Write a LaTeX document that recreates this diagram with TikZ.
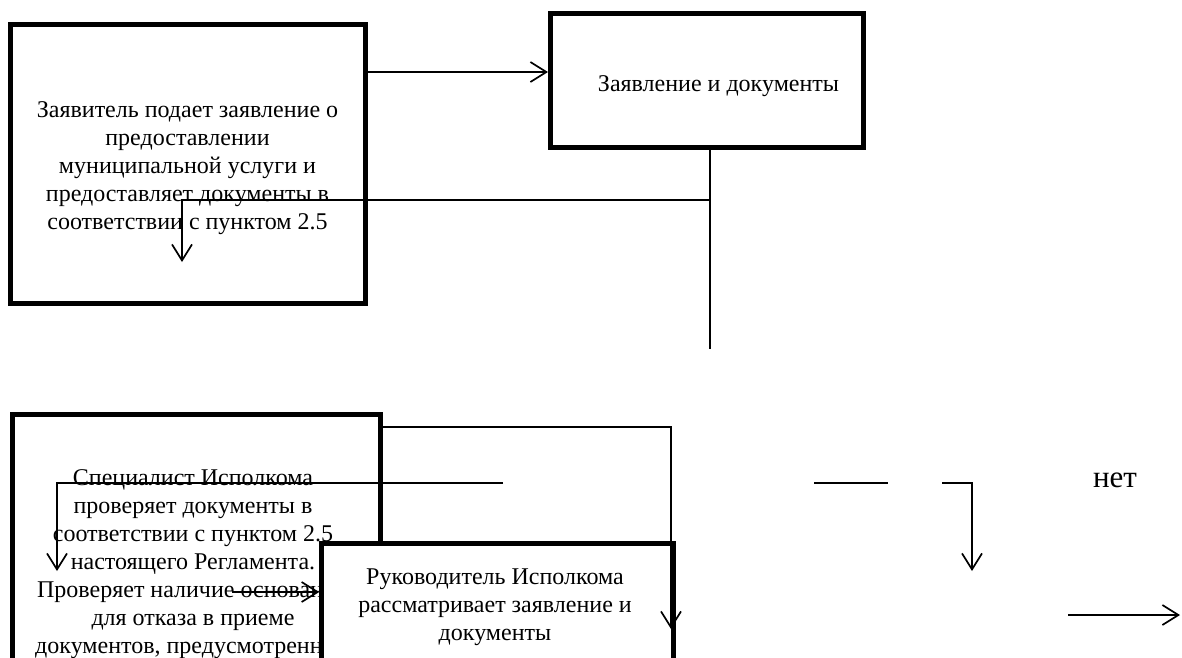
\documentclass[tikz,border=0pt]{standalone}
\usepackage{fontspec}
\setmainfont{Liberation Serif}
\usetikzlibrary{arrows.meta}
\begin{document}
\begin{tikzpicture}[x=1pt,y=-1pt,
  box/.style={draw, line width=4.8pt, fill=white, inner sep=0pt},
  txt/.style={align=center, inner sep=0pt, font=\fontsize{24}{28}\selectfont},
  ln/.style={line width=1.7pt},
  arr/.style={line width=1.7pt, -{Straight Barb[length=16pt,width=20pt,line width=1.7pt]}}]
\useasboundingbox (0,0) rectangle (1182,657);
\clip (0,0) rectangle (1182,657);
% top row
\node[box, minimum width=355.2pt, minimum height=279.2pt] (b1) at (188,164) {};
\node[txt, anchor=north] (t1) at (187.5,101)
  {Заявитель подает заявление о\\предоставлении\\муниципальной услуги и\\предоставляет документы в\\соответствии с пунктом 2.5};
\node[box, minimum width=313.2pt, minimum height=134.2pt] (b2) at (707,80.5) {};
\node[txt, anchor=base] (t2) at (718.5,91) {Заявление и документы};
\coordinate (t1e) at (710,349);
\coordinate (t2e) at (182,262);
\draw[arr] (b1.east |- 0,72) -- (b2.west |- 0,72);
\draw[ln] (b2.south -| t1e) -- (t1e);
\draw[arr] (t1e |- 0,200) -- (t2e |- 0,200) -- (t2e);
% bottom row
\node[box, minimum width=367.5pt, minimum height=400pt, anchor=north west] (b3) at (10.25,412.25) {};
\node[txt, anchor=north] (t3) at (193,469.6)
  {Специалист Исполкома\\проверяет документы в\\соответствии с пунктом 2.5\\настоящего Регламента.\\Проверяет наличие оснований\\для отказа в приеме\\документов, предусмотренных};
\coordinate (c1) at (503,483);
\coordinate (c2) at (57,571);
\draw[arr] (c1) -- (c1 -| c2) -- (c2);
\coordinate (c3) at (232,592);
\node[box, minimum width=351.5pt, minimum height=300pt, anchor=north west] (b4) at (319.25,541.25) {};
\node[txt, anchor=north] (t4) at (495,569)
  {Руководитель Исполкома\\рассматривает заявление и\\документы};
\draw[arr] (c3) -- (c3 -| b4.west);
\coordinate (c4) at (671,629);
\draw[arr] (b3.east |- 0,427) -- (c4 |- 0,427) -- (c4);
\coordinate (c5) at (814,483);
\coordinate (c6) at (888,483);
\draw[ln] (c5) -- (c6);
\coordinate (c7) at (942,483);
\coordinate (c8) at (972,571);
\draw[arr] (c7) -- (c7 -| c8) -- (c8);
\node[txt, anchor=base, font=\fontsize{31}{36}\selectfont] (no) at (1115,487) {нет};
\coordinate (c9) at (1068,615);
\coordinate (c10) at (1180,615);
\draw[arr] (c9) -- (c10);
\end{tikzpicture}
\end{document}
